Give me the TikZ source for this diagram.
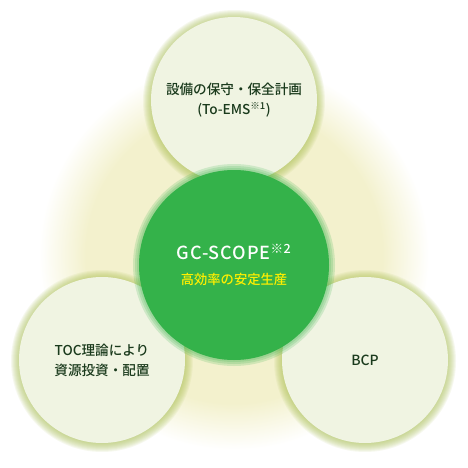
\documentclass[tikz,border=0pt]{standalone}
\usepackage{fontspec}
\setmainfont{Noto Sans CJK JP}[BoldFont={Noto Sans CJK JP Medium}]
\usetikzlibrary{positioning}
\definecolor{palefill}{HTML}{F0F4E2}
\definecolor{haloGreen}{HTML}{AFC45C}
\definecolor{coreGreen}{HTML}{34B24A}
\definecolor{inkGreen}{HTML}{1A3A1C}
\definecolor{goldText}{HTML}{FFEF00}
\definecolor{bgYellow}{HTML}{F3F1CD}
\pgfdeclareradialshading{yellowGlow}{\pgfpoint{0bp}{0bp}}{%
  color(0bp)=(bgYellow); color(19bp)=(bgYellow);
  color(25bp)=(white); color(50bp)=(white)}
\tikzset{
  pale/.style = {circle, fill=palefill, minimum size=166pt, inner sep=0pt,
    text=inkGreen, align=center, font=\bfseries\fontsize{13.6}{20}\selectfont},
  core/.style = {circle, fill=coreGreen, minimum size=190pt, inner sep=0pt,
    text=white, align=center, font=\bfseries\fontsize{13.3}{25}\selectfont}
}

\begin{document}
\begin{tikzpicture}[x=1pt,y=-1pt]
    \useasboundingbox[fill=white] (0,0) rectangle (468,468);
    \coordinate (maintC) at (234,100);
    \coordinate (tocC) at (102,360);
    \coordinate (bcpC) at (365,360);
    \coordinate (coreC) at (234,265);

    % yellow glow behind everything
    \shade[shading=yellowGlow] (234,255) circle[radius=195pt];

    % halos round the pale circles
    \foreach \c in {maintC,tocC,bcpC} {
      \foreach \r in {91,90,...,83}
        \fill[haloGreen, opacity=0.1] ([yshift=-1pt]\c) circle[radius=\r pt];
    }

    \node[pale] (maint) at (maintC) {設備の保守・保全計画\\(To-EMS\textsuperscript{※1})};
    \node[pale] (toc) at (tocC) {TOC理論により\\資源投資・配置};
    \node[pale, font=\bfseries\fontsize{14}{20}\selectfont] (bcp) at (bcpC) {BCP};

    % soft edge of the centre circle
    \foreach \r in {101,99,...,95}
      \fill[coreGreen, opacity=0.18] (coreC) circle[radius=\r pt];
    \node[core] (scope) at (coreC)
      {{\fontsize{18}{25}\selectfont\addfontfeatures{LetterSpace=5}GC-SCOPE\textsuperscript{※2}}\\
       \textcolor{goldText}{高効率の安定生産}};
\end{tikzpicture}
\end{document}
